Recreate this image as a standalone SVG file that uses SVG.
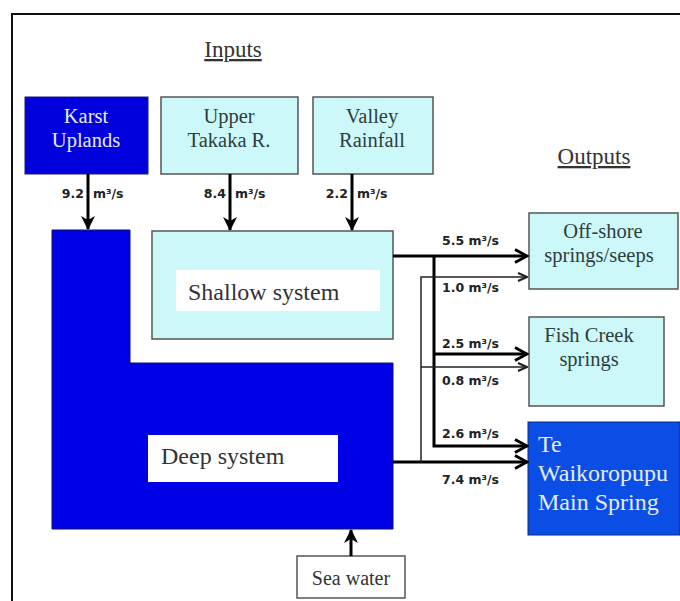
<svg xmlns="http://www.w3.org/2000/svg" width="680" height="601" viewBox="0 0 680 601">
<defs>
<style>
.serif{font-family:"Liberation Serif","Times New Roman",serif;}
.head{font-size:23px;fill:#333;text-anchor:middle;text-decoration:underline;}
.lt{fill:#ccf8fa;stroke:#555;stroke-width:1.5;}
.dk{fill:#0000dc;stroke:#1a1a6a;stroke-width:1;}
.tl{font-size:20.5px;fill:#2f3d3d;text-anchor:middle;}
.tw{font-size:20.5px;fill:#e8ecff;text-anchor:middle;}
.lab{font-family:"DejaVu Sans","Noto Sans",sans-serif;font-size:12.5px;font-weight:bold;fill:#222;}
.thick{stroke:#000;stroke-width:3;fill:none;}
.thin{stroke:#222;stroke-width:1.5;fill:none;}
.in{stroke:#000;stroke-width:3;fill:none;}
</style>
<marker id="fa" viewBox="0 0 14 14" refX="13" refY="7" markerWidth="14" markerHeight="14" markerUnits="userSpaceOnUse" orient="auto">
<path d="M0,0 L14,7 L0,14 L4,7 Z" fill="#000"/>
</marker>
<marker id="ck" viewBox="0 0 16 18" refX="14" refY="9" markerWidth="16" markerHeight="18" markerUnits="userSpaceOnUse" orient="auto">
<path d="M2,2.5 L14,9 L2,15.5" fill="none" stroke="#000" stroke-width="3"/>
</marker>
<marker id="cn" viewBox="0 0 12 12" refX="11" refY="6" markerWidth="12" markerHeight="12" markerUnits="userSpaceOnUse" orient="auto">
<path d="M2,2 L11,6 L2,10" fill="none" stroke="#222" stroke-width="2"/>
</marker>
</defs>
<rect x="0" y="0" width="680" height="601" fill="#fff"/>
<rect x="12" y="14" width="700" height="620" fill="none" stroke="#111" stroke-width="2"/>

<g id="heading-inputs"><text class="serif head" x="233" y="57">Inputs</text></g>
<g id="heading-outputs"><text class="serif head" x="594" y="164">Outputs</text></g>

<g id="karst-uplands">
<rect class="dk" x="25" y="97" width="123" height="77"/>
<text class="serif tw" x="86" y="123">Karst</text>
<text class="serif tw" x="86" y="147">Uplands</text>
</g>
<g id="upper-takaka">
<rect class="lt" x="161" y="97" width="137" height="77"/>
<text class="serif tl" x="229" y="123">Upper</text>
<text class="serif tl" x="229" y="147">Takaka R.</text>
</g>
<g id="valley-rainfall">
<rect class="lt" x="313" y="97" width="120" height="77"/>
<text class="serif tl" x="372" y="123">Valley</text>
<text class="serif tl" x="372" y="147">Rainfall</text>
</g>

<g id="deep-system">
<path d="M52,230 H130 V363 H393 V529 H52 Z" fill="#0000e6" stroke="#10106a" stroke-width="1"/>
<rect x="148" y="435" width="190" height="47" fill="#fff"/>
<text class="serif" x="161" y="464" font-size="24" fill="#333">Deep system</text>
</g>
<g id="shallow-system">
<rect class="lt" x="152" y="231" width="241" height="108"/>
<rect x="176" y="270" width="204" height="41" fill="#fff"/>
<text class="serif" x="188" y="300" font-size="24" fill="#333">Shallow system</text>
</g>

<g id="sea-water">
<rect x="297" y="556" width="108" height="42" fill="#fff" stroke="#555" stroke-width="1.5"/>
<text class="serif" x="351" y="585" font-size="20" fill="#333" text-anchor="middle">Sea water</text>
</g>

<g id="offshore-springs">
<rect class="lt" x="529" y="213" width="149" height="76"/>
<text class="serif tl" x="603" y="238">Off-shore</text>
<text class="serif tl" x="599" y="262">springs/seeps</text>
</g>
<g id="fish-creek">
<rect class="lt" x="529" y="317" width="135" height="89"/>
<text class="serif tl" x="589" y="342">Fish Creek</text>
<text class="serif tl" x="589" y="366">springs</text>
</g>
<g id="te-waikoropupu">
<rect x="528" y="422" width="152" height="113" fill="#0a4ee6" stroke="#0a2a80" stroke-width="1"/>
<text class="serif" x="538" y="452" font-size="24" fill="#e8ecff">Te</text>
<text class="serif" x="538" y="481" font-size="24" fill="#e8ecff">Waikoropupu</text>
<text class="serif" x="538" y="510" font-size="24" fill="#e8ecff">Main Spring</text>
</g>

<g id="connectors">
<line class="in" x1="88" y1="174" x2="88" y2="229" marker-end="url(#fa)"/>
<line class="in" x1="230" y1="174" x2="230" y2="230" marker-end="url(#fa)"/>
<line class="in" x1="352" y1="174" x2="352" y2="230" marker-end="url(#fa)"/>
<line class="in" x1="351" y1="556" x2="351" y2="530" marker-end="url(#fa)"/>

<path class="thick" d="M393,256 H527" marker-end="url(#ck)"/>
<path class="thick" d="M434,256 V446 H527" marker-end="url(#ck)"/>
<path class="thick" d="M434,354 H527" marker-end="url(#ck)"/>
<path class="thick" d="M393,462 H527" stroke-width="3.5" marker-end="url(#ck)"/>
<path class="thin" d="M421,462 V277 H527" marker-end="url(#cn)"/>
<path class="thin" d="M421,367 H527" marker-end="url(#cn)"/>

<text class="lab" x="84" y="198" text-anchor="end">9.2</text>
<text class="lab" x="93" y="198">m³/s</text>
<text class="lab" x="226" y="198" text-anchor="end">8.4</text>
<text class="lab" x="235" y="198">m³/s</text>
<text class="lab" x="348" y="198" text-anchor="end">2.2</text>
<text class="lab" x="357" y="198">m³/s</text>

<text class="lab" x="442" y="245">5.5 m³/s</text>
<text class="lab" x="442" y="292">1.0 m³/s</text>
<text class="lab" x="442" y="348">2.5 m³/s</text>
<text class="lab" x="442" y="385">0.8 m³/s</text>
<text class="lab" x="442" y="438">2.6 m³/s</text>
<text class="lab" x="442" y="484">7.4 m³/s</text>
</g>
</svg>
